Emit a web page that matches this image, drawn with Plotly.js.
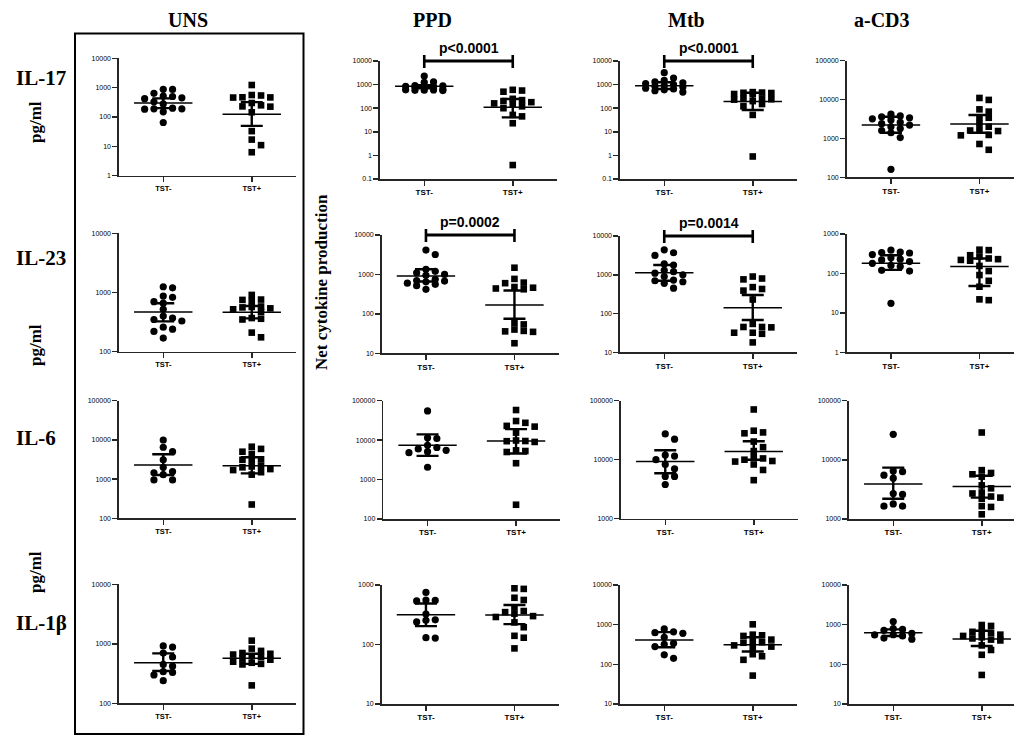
<!DOCTYPE html>
<html><head><meta charset="utf-8">
<script src="https://cdn.plot.ly/plotly-3.0.1.min.js"></script>
<style>html,body{margin:0;padding:0;background:#fff}</style>
</head><body><div id="chart" style="width:1014px;height:735px"></div>
<script>
// ---------- labels ----------
const cytokines = ['IL-17', 'IL-23', 'IL-6', 'IL-1β'];
const stimuli = ['UNS', 'PPD', 'Mtb', 'a-CD3'];
const groups = ['TST-', 'TST+'];
const pValueText = [
  ['', 'p<0.0001', 'p<0.0001', ''],
  ['', 'p=0.0002', 'p=0.0014', ''],
  ['', '', '', ''],
  ['', '', '', '']
];
// log10 axis ranges (decades) per panel
const yDecades = [
  [[0, 4], [-1, 4], [-1, 4], [2, 5]],
  [[2, 4], [1, 4], [1, 4], [0, 3]],
  [[2, 5], [2, 5], [3, 5], [3, 5]],
  [[2, 4], [1, 3], [1, 4], [1, 4]]
];

// ---------- data (pg/ml) ----------
const uns_il17_neg = [880, 870, 640, 520, 500, 450, 420, 330, 280, 200, 190, 190, 185, 150, 65];
const uns_il17_pos = [1230, 560, 540, 470, 465, 460, 300, 250, 230, 225, 145, 33, 17, 11, 6.3];
const ppd_il17_neg = [2300, 1300, 1250, 900, 880, 850, 820, 800, 780, 620, 600, 590, 580, 570, 560];
const ppd_il17_pos = [600, 560, 500, 250, 220, 200, 180, 160, 150, 120, 100, 52, 45, 23, 0.39];
const mtb_il17_neg = [3200, 1900, 1500, 1300, 1200, 1100, 1000, 900, 850, 800, 700, 650, 600, 550, 480];
const mtb_il17_pos = [480, 460, 450, 440, 400, 390, 250, 245, 240, 230, 200, 150, 120, 52, 0.9];
const acd3_il17_neg = [4200, 3800, 3600, 3400, 3200, 3000, 2600, 2400, 2200, 2000, 1800, 1600, 1400, 1050, 160];
const acd3_il17_pos = [11000, 9800, 5600, 4900, 3500, 3400, 2450, 2000, 1700, 1600, 1550, 1230, 1200, 720, 510];

const uns_il23_neg = [1250, 1200, 870, 830, 700, 660, 520, 400, 370, 350, 330, 260, 240, 220, 170];
const uns_il23_pos = [910, 760, 750, 720, 580, 570, 560, 540, 520, 470, 370, 360, 350, 210, 175];
const ppd_il23_neg = [4150, 3200, 1350, 1200, 1100, 1000, 950, 750, 700, 680, 650, 600, 560, 520, 420];
const ppd_il23_pos = [1480, 770, 620, 600, 480, 460, 440, 420, 58, 54, 40, 37, 35, 36, 18];
const mtb_il23_neg = [4400, 3700, 3150, 1900, 1780, 1300, 1200, 1100, 1000, 900, 730, 700, 660, 600, 450];
const mtb_il23_pos = [900, 800, 760, 480, 430, 390, 230, 54, 45, 45, 44, 32, 32, 30, 18];
const acd3_il23_neg = [390, 350, 340, 330, 300, 250, 230, 220, 200, 180, 160, 150, 120, 115, 17.5];
const acd3_il23_pos = [400, 390, 290, 270, 240, 230, 220, 210, 155, 115, 91, 65, 46, 22, 21];

const uns_il6_neg = [9950, 6500, 5000, 3100, 2000, 1560, 1450, 1300, 950, 950];
const uns_il6_pos = [6700, 5900, 5000, 4400, 3200, 3100, 3000, 2200, 2100, 2000, 1800, 1700, 1500, 1300, 225];
const ppd_il6_neg = [55000, 11500, 11000, 7400, 6500, 6000, 5500, 5100, 4800, 2050];
const ppd_il6_pos = [58000, 30500, 27500, 23000, 22000, 15500, 9800, 9500, 9400, 9000, 5500, 5300, 5000, 2600, 230];
const mtb_il6_neg = [27300, 22300, 12000, 11500, 10000, 8300, 7000, 5200, 5200, 3800];
const mtb_il6_pos = [71000, 31000, 29000, 28000, 20300, 16300, 14000, 11000, 10500, 10000, 9500, 9300, 8300, 6700, 4500];
const acd3_il6_neg = [27000, 6500, 6300, 5500, 4900, 2700, 2600, 1800, 1650, 1650];
const acd3_il6_pos = [29000, 6700, 6000, 5700, 5200, 3700, 3300, 2800, 2700, 2400, 2300, 2200, 1650, 1600, 1200];

const uns_il1b_neg = [920, 880, 700, 600, 450, 420, 340, 330, 300, 240];
const uns_il1b_pos = [1130, 830, 760, 700, 680, 660, 620, 600, 570, 540, 500, 480, 460, 450, 200];
const ppd_il1b_neg = [750, 560, 550, 540, 325, 260, 255, 240, 130, 128];
const ppd_il1b_pos = [880, 860, 610, 560, 420, 365, 350, 330, 300, 290, 235, 195, 140, 130, 86];
const mtb_il1b_neg = [780, 660, 630, 606, 480, 340, 320, 280, 174, 142];
const mtb_il1b_pos = [1020, 560, 540, 520, 420, 380, 360, 350, 300, 280, 260, 180, 160, 130, 52];
const acd3_il1b_neg = [1200, 800, 760, 720, 600, 560, 550, 520, 460, 430];
const acd3_il1b_pos = [980, 930, 680, 660, 620, 560, 520, 480, 450, 420, 400, 300, 230, 174, 54];

// ---------- summary: [median, Q1, Q3] ----------
const uns_il17_stat = [[300, 200, 430], [125, 50, 320]];
const ppd_il17_stat = [[850, 700, 950], [109, 41, 245]];
const mtb_il17_stat = [[900, 650, 1250], [190, 84, 450]];
const acd3_il17_stat = [[2200, 1400, 3600], [2350, 1400, 4000]];
const uns_il23_stat = [[470, 325, 660], [465, 365, 590]];
const ppd_il23_stat = [[910, 660, 1350], [168, 75, 390]];
const mtb_il23_stat = [[1130, 700, 1780], [140, 68, 300]];
const acd3_il23_stat = [[180, 123, 290], [149, 48, 240]];
const uns_il6_stat = [[2300, 1270, 4300], [2200, 1400, 3600]];
const ppd_il6_stat = [[7400, 4000, 14000], [9500, 4600, 19000]];
const mtb_il6_stat = [[9300, 5900, 14500], [13800, 10000, 20500]];
const acd3_il6_stat = [[3900, 2200, 7400], [3550, 2300, 5400]];
const uns_il1b_stat = [[480, 350, 690], [570, 460, 680]];
const ppd_il1b_stat = [[317, 204, 490], [313, 220, 460]];
const mtb_il1b_stat = [[410, 270, 650], [310, 210, 480]];
const acd3_il1b_stat = [[630, 520, 760], [435, 290, 700]];

const panelData = [
  [[uns_il17_neg, uns_il17_pos, uns_il17_stat], [ppd_il17_neg, ppd_il17_pos, ppd_il17_stat], [mtb_il17_neg, mtb_il17_pos, mtb_il17_stat], [acd3_il17_neg, acd3_il17_pos, acd3_il17_stat]],
  [[uns_il23_neg, uns_il23_pos, uns_il23_stat], [ppd_il23_neg, ppd_il23_pos, ppd_il23_stat], [mtb_il23_neg, mtb_il23_pos, mtb_il23_stat], [acd3_il23_neg, acd3_il23_pos, acd3_il23_stat]],
  [[uns_il6_neg, uns_il6_pos, uns_il6_stat], [ppd_il6_neg, ppd_il6_pos, ppd_il6_stat], [mtb_il6_neg, mtb_il6_pos, mtb_il6_stat], [acd3_il6_neg, acd3_il6_pos, acd3_il6_stat]],
  [[uns_il1b_neg, uns_il1b_pos, uns_il1b_stat], [ppd_il1b_neg, ppd_il1b_pos, ppd_il1b_stat], [mtb_il1b_neg, mtb_il1b_pos, mtb_il1b_stat], [acd3_il1b_neg, acd3_il1b_pos, acd3_il1b_stat]]
];

// ---------- layout geometry (pixels) ----------
const W = 1014, H = 735;
const xLeftPx = [[119, 380, 620, 846.7], [119, 381.7, 620, 846.7], [119, 383.3, 621, 849], [119, 381.7, 620, 849]];
const yTopPx = [[58.3, 61, 61, 60.7], [233.3, 235, 236, 234], [400.7, 400.7, 400.7, 400.7], [584.3, 585, 585, 585]];
const yBotPx = [[175.7, 179, 179, 177.3], [351.7, 353.3, 352.3, 352.3], [518.3, 519, 518.7, 519], [703.3, 704, 704, 704]];
const panelW = 177;

const SANS = 'Liberation Sans, Arial, sans-serif';
const SERIF = 'Liberation Serif, Times New Roman, serif';
const AX = '#262626';

// column-style beeswarm offsets (in category units), at most 5 columns wide
function swarm(vals, pxPerDecade, pxPerUnit) {
  const stepPx = 9.3, minGap = 6.0;
  const cols = [0, 1, -1, 2, -2];
  const placed = [];
  const offs = new Array(vals.length).fill(0);
  const order = vals.map((v, i) => i).sort((a, b) => vals[b] - vals[a]);
  for (const i of order) {
    const y = Math.log10(vals[i]) * pxPerDecade;
    let best = 0, bestD = -1;
    for (const m of cols) {
      let d = Infinity;
      placed.forEach(p => { if (p.m === m) d = Math.min(d, Math.abs(p.y - y)); });
      if (d >= minGap) { best = m; break; }
      if (d > bestD) { bestD = d; best = m; }
    }
    placed.push({ m: best, y });
    offs[i] = best * stepPx / pxPerUnit;
  }
  return offs;
}
function fmtTick(k) { const v = Math.pow(10, k); return k < 0 ? v.toFixed(-k) : String(Math.round(v)); }

const traces = [];
const layout = {
  width: W, height: H, margin: { l: 0, r: 0, t: 0, b: 0 }, showlegend: false,
  paper_bgcolor: '#fff', plot_bgcolor: 'rgba(0,0,0,0)', shapes: [], annotations: []
};

for (let r = 0; r < 4; r++) {
  for (let c = 0; c < 4; c++) {
    const i = r * 4 + c;
    const sfx = i === 0 ? '' : String(i + 1);
    const xa = 'x' + sfx, ya = 'y' + sfx;
    const left = xLeftPx[r][c];
    const right = Math.min(left + panelW, W);
    const pxPerUnit = panelW / 2;
    const top = yTopPx[r][c], bot = yBotPx[r][c];
    const yr = yDecades[r][c];
    const pxPerDecade = (bot - top) / (yr[1] - yr[0]);
    const tv = [], tt = [];
    for (let k = yr[0]; k <= yr[1]; k++) { tv.push(Math.pow(10, k)); tt.push(fmtTick(k)); }

    layout['xaxis' + sfx] = {
      domain: [left / W, right / W], range: [-0.5, -0.5 + (right - left) / pxPerUnit], anchor: ya,
      tickmode: 'array', tickvals: [0, 1], ticktext: groups,
      showline: true, linecolor: AX, linewidth: 1.6, ticks: 'outside', ticklen: 5, tickwidth: 1.5, tickcolor: AX,
      showgrid: false, zeroline: false, fixedrange: true,
      tickfont: { family: SANS, size: c === 0 ? 7.5 : 8, color: '#000', weight: 'bold' }
    };
    layout['yaxis' + sfx] = {
      domain: [1 - bot / H, 1 - top / H], type: 'log', range: yr, anchor: xa,
      tickmode: 'array', tickvals: tv, ticktext: tt,
      showline: true, linecolor: AX, linewidth: 1.6, ticks: 'outside', ticklen: 5, tickwidth: 1.5, tickcolor: AX,
      showgrid: false, zeroline: false, fixedrange: true,
      tickfont: { family: SANS, size: 7, color: '#000' }
    };

    const pd = panelData[r][c];
    for (let g = 0; g < 2; g++) {
      const vals = pd[g];
      const st = pd[2][g];
      const offs = swarm(vals, pxPerDecade, pxPerUnit);
      traces.push({
        type: 'scatter', mode: 'markers', xaxis: xa, yaxis: ya,
        x: offs.map(o => g + o), y: vals, cliponaxis: false, hoverinfo: 'skip',
        marker: { symbol: g ? 'square' : 'circle', size: g ? 6.6 : 7.2, color: '#000', line: { width: 0 } }
      });
      traces.push({
        type: 'scatter', mode: 'lines', xaxis: xa, yaxis: ya,
        x: [g - 0.33, g + 0.33], y: [st[0], st[0]], hoverinfo: 'skip',
        line: { color: '#000', width: 1.5 }
      });
      traces.push({
        type: 'scatter', mode: 'markers', xaxis: xa, yaxis: ya,
        x: [g], y: [st[0]], hoverinfo: 'skip',
        marker: { size: 1, color: 'rgba(0,0,0,0)' },
        error_y: { type: 'data', symmetric: false, array: [st[2] - st[0]], arrayminus: [st[0] - st[1]],
                   width: 11, thickness: 2.4, color: '#000' }
      });
    }

    const pt = pValueText[r][c];
    if (pt) {
      const yref = ya + ' domain';
      layout.shapes.push({ type: 'line', xref: xa, yref: yref, x0: 0, x1: 1, y0: 1, y1: 1, line: { color: '#000', width: 2.8 } });
      [0, 1].forEach(xx => layout.shapes.push({
        type: 'line', xref: xa, yref: yref, ysizemode: 'pixel', yanchor: 1, x0: xx, x1: xx, y0: -7, y1: 6,
        line: { color: '#000', width: 2.6 }
      }));
      layout.annotations.push({
        text: pt, xref: xa, yref: yref, x: 0.5, y: 1, xanchor: 'center', yanchor: 'bottom', yshift: 3,
        showarrow: false, font: { family: SANS, size: 14, color: '#000', weight: 'bold' }
      });
    }
  }
}

// ---------- text labels ----------
function paperText(text, px, py, opts) {
  layout.annotations.push(Object.assign({
    text, xref: 'paper', yref: 'paper', x: px / W, y: 1 - py / H, xanchor: 'center', yanchor: 'middle',
    showarrow: false, font: { family: SERIF, size: 20, color: '#000', weight: 'bold' }
  }, opts || {}));
}
const colTitleX = [188, 432, 686, 882];
stimuli.forEach((s, k) => paperText(s, colTitleX[k], 20));
const rowLabelY = [78, 258, 438, 623];
cytokines.forEach((s, k) => paperText(s, 14, rowLabelY[k], { xanchor: 'left', font: { family: SERIF, size: 21, color: '#000', weight: 'bold' } }));
[122, 345, 572].forEach(py => paperText('pg/ml', 35, py, { textangle: -90, font: { family: SERIF, size: 17, color: '#000', weight: 'bold' } }));
paperText('Net cytokine production', 322, 282, { textangle: -90, font: { family: SERIF, size: 17, color: '#000', weight: 'bold' } });

// box round the UNS column
layout.shapes.push({ type: 'rect', xref: 'paper', yref: 'paper', x0: 75 / W, x1: 303.5 / W, y0: 1 - 734 / H, y1: 1 - 33.5 / H,
  line: { color: '#000', width: 2 }, fillcolor: 'rgba(0,0,0,0)' });

Plotly.newPlot('chart', traces, layout, { staticPlot: true, displayModeBar: false });
</script>
</body></html>
